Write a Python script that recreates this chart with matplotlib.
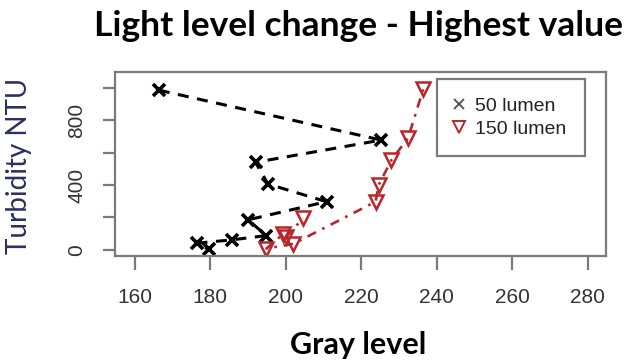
import matplotlib.pyplot as plt
from matplotlib.lines import Line2D

# gray level vs turbidity
gray_50 = [166.4, 225.3, 192.0, 195.3, 210.8, 190.0, 194.9, 185.9, 176.5, 179.6]
ntu_50 = [985, 677, 540, 406, 297, 185, 88, 62, 41, 3]

gray_150 = [236.4, 232.4, 228.0, 224.6, 223.8, 202.0, 194.9, 199.3, 200.2, 204.6]
ntu_150 = [990, 690, 554, 400, 297, 37, 8, 97, 82, 195]

series_labels = ['50 lumen', '150 lumen']
x_ticks = [160, 180, 200, 220, 240, 260, 280]
y_ticks = [0, 200, 400, 600, 800, 1000]
y_ticklabels = ['0', '', '400', '', '800', '']

red = '#B8262B'
box_gray = '#7a7a7a'

fig = plt.figure(figsize=(6.26, 3.63), dpi=100)
ax = fig.add_axes([115 / 626, 1 - 256 / 363, 491 / 626, 184 / 363])

ax.plot(gray_50, ntu_50, color='black', lw=2.2, dashes=(3.6, 2.8),
        marker='x', markersize=9, markeredgewidth=2.6)
ax.plot(gray_150, ntu_150, color=red, lw=1.9, dashes=(1, 2.6, 3.6, 2.6),
        marker='v', markersize=10, markeredgewidth=1.8,
        markerfacecolor='none', markeredgecolor=red)

ax.set_xlim(154.8, 284.8)
ax.set_ylim(-38, 1097)
ax.set_xticks(x_ticks)
ax.set_yticks(y_ticks)
ax.set_yticklabels(y_ticklabels, rotation=90, va='center')

for s in ax.spines.values():
    s.set_color(box_gray)
    s.set_linewidth(1.6)
ax.tick_params(axis='x', length=10, width=1.6, color=box_gray, pad=13,
               labelsize=15, labelcolor='#333333')
ax.tick_params(axis='y', length=8.5, width=1.6, color=box_gray, pad=12,
               labelsize=15, labelcolor='#333333')
for lab in ax.get_xticklabels() + ax.get_yticklabels():
    lab.set_fontfamily('Liberation Sans')

handles = [
    Line2D([], [], ls='none', marker='x', color='#555555', markersize=7,
           markeredgewidth=1.4),
    Line2D([], [], ls='none', marker='v', color=red, markersize=9,
           markerfacecolor='none', markeredgewidth=1.4),
]
leg = ax.legend(handles, series_labels, loc='upper left',
                bbox_to_anchor=(0.656, 0.962), fancybox=False,
                prop={'family': 'Liberation Sans', 'size': 14},
                borderpad=0.95, handlelength=0.4, handletextpad=0.6,
                labelspacing=0.25, borderaxespad=0, framealpha=1)
leg.get_frame().set_edgecolor(box_gray)
leg.get_frame().set_linewidth(1.6)
for t in leg.get_texts():
    t.set_color('#222222')

fig.text(358 / 626, 1 - 26 / 363, 'Light level change - Highest value',
         ha='center', va='center', fontsize=25.5, fontweight='bold',
         family='Lato')
fig.text(358 / 626, 1 - 345 / 363, 'Gray level', ha='center', va='center',
         fontsize=22, fontweight='bold', family='Lato')
fig.text(19 / 626, 1 - 166 / 363, 'Turbidity NTU', ha='center', va='center',
         rotation=90, fontsize=20, color='#2A2F60', family='Lato')

fig.savefig('out.png', dpi=100)
